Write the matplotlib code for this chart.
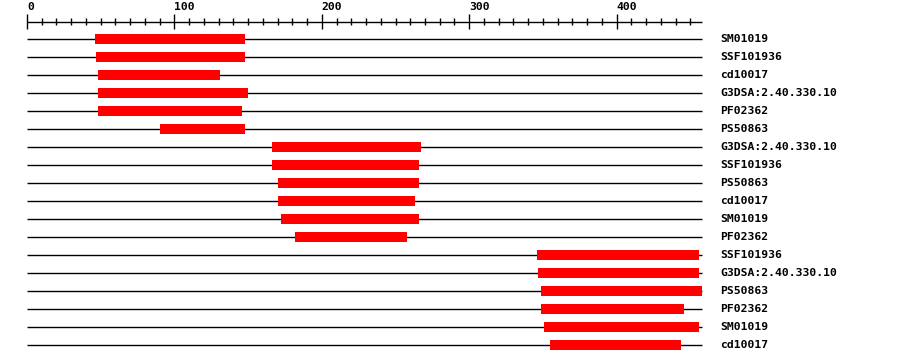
import matplotlib
matplotlib.use("Agg")
import matplotlib.pyplot as plt
import numpy as np

# domain hits along the protein sequence
seq_len = 458
labels = ["SM01019", "SSF101936", "cd10017", "G3DSA:2.40.330.10", "PF02362", "PS50863",
          "G3DSA:2.40.330.10", "SSF101936", "PS50863", "cd10017", "SM01019", "PF02362",
          "SSF101936", "G3DSA:2.40.330.10", "PS50863", "PF02362", "SM01019", "cd10017"]
starts = [46, 47, 48, 48, 48, 90, 166, 166, 170, 170, 172, 182, 346, 347, 349, 349, 351, 355]
ends = [148, 148, 131, 150, 146, 148, 267, 266, 266, 263, 266, 258, 456, 456, 458, 446, 456, 444]

W, H = 900, 364
fig = plt.figure(figsize=(W / 100, H / 100), dpi=100)
ax = fig.add_axes([0, 0, 1, 1])
px = 1.474  # pixels per residue
x0 = 27
ax.set_xlim(-x0 / px, (W - x0) / px)
ax.set_ylim(H, 0)  # y in pixels from the top
ax.axis("off")

font = dict(family="DejaVu Sans Mono", weight="bold", fontsize=8.2)

# ruler on top
ruler_y = 21.5
ax.hlines(ruler_y, 0, seq_len, color="black", lw=1)
for t in np.arange(0, seq_len, 10):
    if t % 100 == 0:
        ax.vlines(t, 13.5, 28.5, color="black", lw=1)
        ax.text(t, 12.5, str(t), ha="left", va="bottom", **font)
    else:
        ax.vlines(t, 18, 25, color="black", lw=1)

# one row per hit
row_y = 39 + 18 * np.arange(len(labels))
for y, s, e, lab in zip(row_y, starts, ends, labels):
    ax.hlines(y, 0, seq_len, color="black", lw=1, zorder=1)
    ax.fill_between([s, e], y - 4.8, y + 4.8, color="#ff0000", lw=0, zorder=3)
    ax.text((720 - x0) / px, y + 0.5, lab, ha="left", va="center", **font)

fig.savefig("out.png", dpi=100, facecolor="white")
